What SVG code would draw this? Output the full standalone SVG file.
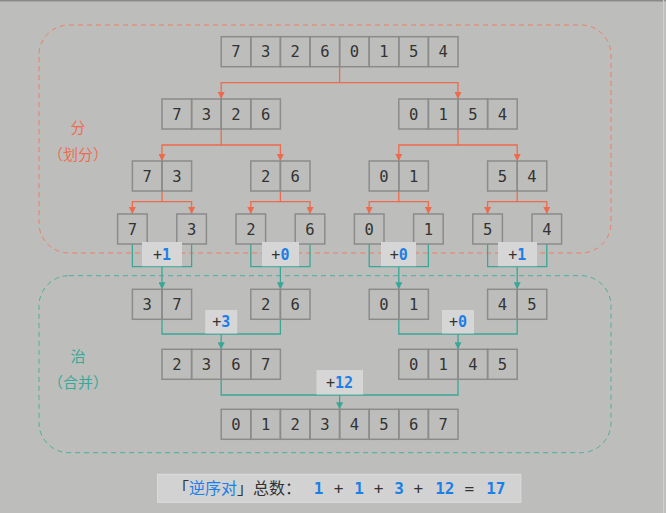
<svg xmlns="http://www.w3.org/2000/svg" width="666" height="513" viewBox="0 0 666 513">
<defs>
<style>
.c{fill:none;stroke:#8b8b8b;stroke-width:1.5}
.t{font-family:"DejaVu Sans Mono","Liberation Mono",monospace;font-size:15.5px;fill:#333;text-anchor:middle}
.red{fill:none;stroke:#ee6a4c;stroke-width:1.3}
.teal{fill:none;stroke:#3aa796;stroke-width:1.3}
.lb{fill:#d6d6d6}
.lt{font-family:"DejaVu Sans Mono","Liberation Mono",monospace;font-size:15px;fill:#333;text-anchor:middle}
.bl{fill:#1a7fe6;font-weight:bold}
.cn{font-family:"Noto Sans CJK SC","Noto Sans",sans-serif;font-size:15px;text-anchor:middle}
</style>
<marker id="ar" viewBox="0 0 8 8" refX="8" refY="4" markerWidth="7" markerHeight="7" markerUnits="userSpaceOnUse" orient="auto"><path d="M0,0L8,4L0,8z" fill="#ee6a4c"/></marker>
<marker id="at" viewBox="0 0 8 8" refX="8" refY="4" markerWidth="7" markerHeight="7" markerUnits="userSpaceOnUse" orient="auto"><path d="M0,0L8,4L0,8z" fill="#3aa796"/></marker>
</defs>
<rect width="666" height="513" fill="#bdbebc"/>
<rect x="0" y="0" width="666" height="1.5" fill="#8a8b89"/>
<rect x="663" y="0" width="1.2" height="513" fill="#d0d1cf"/>

<rect x="39" y="25" width="572" height="228" rx="30" fill="none" stroke="#ef7d63" stroke-width="1" stroke-dasharray="5 4"/>
<rect x="39" y="275.7" width="572" height="177" rx="30" fill="none" stroke="#4aae9f" stroke-width="1" stroke-dasharray="5 4"/>

<text class="cn" x="78" y="133" fill="#ef6c52">分</text>
<text class="cn" x="78" y="160" fill="#ef6c52">（划分）</text>
<text class="cn" x="78" y="362" fill="#3aa898">治</text>
<text class="cn" x="78" y="388" fill="#3aa898">（合并）</text>

<g id="connectors">
<path class="red" marker-end="url(#ar)" d="M339.6 66.7V82.7H221.2V99"/>
<path class="red" marker-end="url(#ar)" d="M339.6 82.7H458V99"/>
<path class="red" marker-end="url(#ar)" d="M221.2 129V145H162V161"/>
<path class="red" marker-end="url(#ar)" d="M221.2 145H280.4V161"/>
<path class="red" marker-end="url(#ar)" d="M458 129V145H398.8V161"/>
<path class="red" marker-end="url(#ar)" d="M458 145H517.2V161"/>
<path class="red" marker-end="url(#ar)" d="M162 191V201.7H132.4V214"/>
<path class="red" marker-end="url(#ar)" d="M162 201.7H191.6V214"/>
<path class="red" marker-end="url(#ar)" d="M280.4 191V201.7H250.8V214"/>
<path class="red" marker-end="url(#ar)" d="M280.4 201.7H310V214"/>
<path class="red" marker-end="url(#ar)" d="M398.8 191V201.7H369.2V214"/>
<path class="red" marker-end="url(#ar)" d="M398.8 201.7H428.4V214"/>
<path class="red" marker-end="url(#ar)" d="M517.2 191V201.7H487.6V214"/>
<path class="red" marker-end="url(#ar)" d="M517.2 201.7H546.8V214"/>
<path class="teal" d="M132.4 244V266.7H191.6V244"/>
<path class="teal" marker-end="url(#at)" d="M162 266.7V289.3"/>
<path class="teal" d="M250.8 244V266.7H310V244"/>
<path class="teal" marker-end="url(#at)" d="M280.4 266.7V289.3"/>
<path class="teal" d="M369.2 244V266.7H428.4V244"/>
<path class="teal" marker-end="url(#at)" d="M398.8 266.7V289.3"/>
<path class="teal" d="M487.6 244V266.7H546.8V244"/>
<path class="teal" marker-end="url(#at)" d="M517.2 266.7V289.3"/>
<path class="teal" d="M162 319.3V334H280.4V319.3"/>
<path class="teal" marker-end="url(#at)" d="M221.2 334V349.3"/>
<path class="teal" d="M398.8 319.3V334H517.2V319.3"/>
<path class="teal" marker-end="url(#at)" d="M458 334V349.3"/>
<path class="teal" d="M221.2 379.3V395H458V379.3"/>
<path class="teal" marker-end="url(#at)" d="M339.6 395V409.3"/>
</g>

<g id="a0">
<rect class="c" x="221.2" y="36.7" width="29.6" height="30"/><rect class="c" x="250.8" y="36.7" width="29.6" height="30"/><rect class="c" x="280.4" y="36.7" width="29.6" height="30"/><rect class="c" x="310" y="36.7" width="29.6" height="30"/><rect class="c" x="339.6" y="36.7" width="29.6" height="30"/><rect class="c" x="369.2" y="36.7" width="29.6" height="30"/><rect class="c" x="398.8" y="36.7" width="29.6" height="30"/><rect class="c" x="428.4" y="36.7" width="29.6" height="30"/>
<text class="t" y="57.4"><tspan x="236">7</tspan><tspan x="265.6">3</tspan><tspan x="295.2">2</tspan><tspan x="324.8">6</tspan><tspan x="354.4">0</tspan><tspan x="384">1</tspan><tspan x="413.6">5</tspan><tspan x="443.2">4</tspan></text>
</g>

<g id="l2a">
<rect class="c" x="162" y="99" width="29.6" height="30"/><rect class="c" x="191.6" y="99" width="29.6" height="30"/><rect class="c" x="221.2" y="99" width="29.6" height="30"/><rect class="c" x="250.8" y="99" width="29.6" height="30"/>
<text class="t" y="119.7"><tspan x="176.8">7</tspan><tspan x="206.4">3</tspan><tspan x="236">2</tspan><tspan x="265.6">6</tspan></text>
</g>
<g id="l2b">
<rect class="c" x="398.8" y="99" width="29.6" height="30"/><rect class="c" x="428.4" y="99" width="29.6" height="30"/><rect class="c" x="458" y="99" width="29.6" height="30"/><rect class="c" x="487.6" y="99" width="29.6" height="30"/>
<text class="t" y="119.7"><tspan x="413.6">0</tspan><tspan x="443.2">1</tspan><tspan x="472.8">5</tspan><tspan x="502.4">4</tspan></text>
</g>

<g id="l3a"><rect class="c" x="132.4" y="161" width="29.6" height="30"/><rect class="c" x="162" y="161" width="29.6" height="30"/><text class="t" y="181.7"><tspan x="147.2">7</tspan><tspan x="176.8">3</tspan></text></g>
<g id="l3b"><rect class="c" x="250.8" y="161" width="29.6" height="30"/><rect class="c" x="280.4" y="161" width="29.6" height="30"/><text class="t" y="181.7"><tspan x="265.6">2</tspan><tspan x="295.2">6</tspan></text></g>
<g id="l3c"><rect class="c" x="369.2" y="161" width="29.6" height="30"/><rect class="c" x="398.8" y="161" width="29.6" height="30"/><text class="t" y="181.7"><tspan x="384">0</tspan><tspan x="413.6">1</tspan></text></g>
<g id="l3d"><rect class="c" x="487.6" y="161" width="29.6" height="30"/><rect class="c" x="517.2" y="161" width="29.6" height="30"/><text class="t" y="181.7"><tspan x="502.4">5</tspan><tspan x="532">4</tspan></text></g>

<g id="s1"><rect class="c" x="117.6" y="214" width="29.6" height="30"/><text class="t" x="132.4" y="234.7">7</text></g>
<g id="s2"><rect class="c" x="176.8" y="214" width="29.6" height="30"/><text class="t" x="191.6" y="234.7">3</text></g>
<g id="s3"><rect class="c" x="236" y="214" width="29.6" height="30"/><text class="t" x="250.8" y="234.7">2</text></g>
<g id="s4"><rect class="c" x="295.2" y="214" width="29.6" height="30"/><text class="t" x="310" y="234.7">6</text></g>
<g id="s5"><rect class="c" x="354.4" y="214" width="29.6" height="30"/><text class="t" x="369.2" y="234.7">0</text></g>
<g id="s6"><rect class="c" x="413.6" y="214" width="29.6" height="30"/><text class="t" x="428.4" y="234.7">1</text></g>
<g id="s7"><rect class="c" x="472.8" y="214" width="29.6" height="30"/><text class="t" x="487.6" y="234.7">5</text></g>
<g id="s8"><rect class="c" x="532" y="214" width="29.6" height="30"/><text class="t" x="546.8" y="234.7">4</text></g>

<g id="m1a"><rect class="c" x="132.4" y="289.3" width="29.6" height="30"/><rect class="c" x="162" y="289.3" width="29.6" height="30"/><text class="t" y="310"><tspan x="147.2">3</tspan><tspan x="176.8">7</tspan></text></g>
<g id="m1b"><rect class="c" x="250.8" y="289.3" width="29.6" height="30"/><rect class="c" x="280.4" y="289.3" width="29.6" height="30"/><text class="t" y="310"><tspan x="265.6">2</tspan><tspan x="295.2">6</tspan></text></g>
<g id="m1c"><rect class="c" x="369.2" y="289.3" width="29.6" height="30"/><rect class="c" x="398.8" y="289.3" width="29.6" height="30"/><text class="t" y="310"><tspan x="384">0</tspan><tspan x="413.6">1</tspan></text></g>
<g id="m1d"><rect class="c" x="487.6" y="289.3" width="29.6" height="30"/><rect class="c" x="517.2" y="289.3" width="29.6" height="30"/><text class="t" y="310"><tspan x="502.4">4</tspan><tspan x="532">5</tspan></text></g>

<g id="m2a">
<rect class="c" x="162" y="349.3" width="29.6" height="30"/><rect class="c" x="191.6" y="349.3" width="29.6" height="30"/><rect class="c" x="221.2" y="349.3" width="29.6" height="30"/><rect class="c" x="250.8" y="349.3" width="29.6" height="30"/>
<text class="t" y="370"><tspan x="176.8">2</tspan><tspan x="206.4">3</tspan><tspan x="236">6</tspan><tspan x="265.6">7</tspan></text>
</g>
<g id="m2b">
<rect class="c" x="398.8" y="349.3" width="29.6" height="30"/><rect class="c" x="428.4" y="349.3" width="29.6" height="30"/><rect class="c" x="458" y="349.3" width="29.6" height="30"/><rect class="c" x="487.6" y="349.3" width="29.6" height="30"/>
<text class="t" y="370"><tspan x="413.6">0</tspan><tspan x="443.2">1</tspan><tspan x="472.8">4</tspan><tspan x="502.4">5</tspan></text>
</g>

<g id="m3">
<rect class="c" x="221.2" y="409.3" width="29.6" height="30"/><rect class="c" x="250.8" y="409.3" width="29.6" height="30"/><rect class="c" x="280.4" y="409.3" width="29.6" height="30"/><rect class="c" x="310" y="409.3" width="29.6" height="30"/><rect class="c" x="339.6" y="409.3" width="29.6" height="30"/><rect class="c" x="369.2" y="409.3" width="29.6" height="30"/><rect class="c" x="398.8" y="409.3" width="29.6" height="30"/><rect class="c" x="428.4" y="409.3" width="29.6" height="30"/>
<text class="t" y="430"><tspan x="236">0</tspan><tspan x="265.6">1</tspan><tspan x="295.2">2</tspan><tspan x="324.8">3</tspan><tspan x="354.4">4</tspan><tspan x="384">5</tspan><tspan x="413.6">6</tspan><tspan x="443.2">7</tspan></text>
</g>

<g id="labels">
<rect class="lb" x="142" y="242" width="40" height="24.2"/><text class="lt" x="162" y="259.5">+<tspan class="bl">1</tspan></text>
<rect class="lb" x="262" y="242" width="37" height="24.2"/><text class="lt" x="280.4" y="259.5">+<tspan class="bl">0</tspan></text>
<rect class="lb" x="381" y="242" width="35" height="24.2"/><text class="lt" x="398.8" y="259.5">+<tspan class="bl">0</tspan></text>
<rect class="lb" x="498" y="242" width="39" height="24.2"/><text class="lt" x="517.2" y="259.5">+<tspan class="bl">1</tspan></text>
<rect class="lb" x="205.2" y="310" width="32" height="23.5"/><text class="lt" x="221.2" y="327.2">+<tspan class="bl">3</tspan></text>
<rect class="lb" x="442" y="310" width="32" height="23.5"/><text class="lt" x="458" y="327.2">+<tspan class="bl">0</tspan></text>
<rect class="lb" x="316.5" y="370" width="46.5" height="24.5"/><text class="lt" x="339.6" y="387.8">+<tspan class="bl">12</tspan></text>
</g>

<g id="total">
<rect x="157.6" y="474.3" width="363.2" height="28" fill="#d2d2d2" stroke="#dcdcdc" stroke-width="1"/>
<text x="173" y="494" style="font-family:'Noto Sans CJK SC','Noto Sans',sans-serif;font-size:16px;fill:#333">「<tspan fill="#1a7fe6">逆序对</tspan>」总数：</text>
<g style="font-family:'DejaVu Sans Mono','Liberation Mono',monospace;font-size:16px;text-anchor:middle">
<text x="318.6" y="494" class="bl">1</text><text x="338.6" y="494" fill="#333">+</text>
<text x="359" y="494" class="bl">1</text><text x="378.5" y="494" fill="#333">+</text>
<text x="399" y="494" class="bl">3</text><text x="418.4" y="494" fill="#333">+</text>
<text x="444.8" y="494" class="bl">12</text><text x="469.4" y="494" fill="#333">=</text>
<text x="495.8" y="494" class="bl">17</text>
</g>
</g>
</svg>
